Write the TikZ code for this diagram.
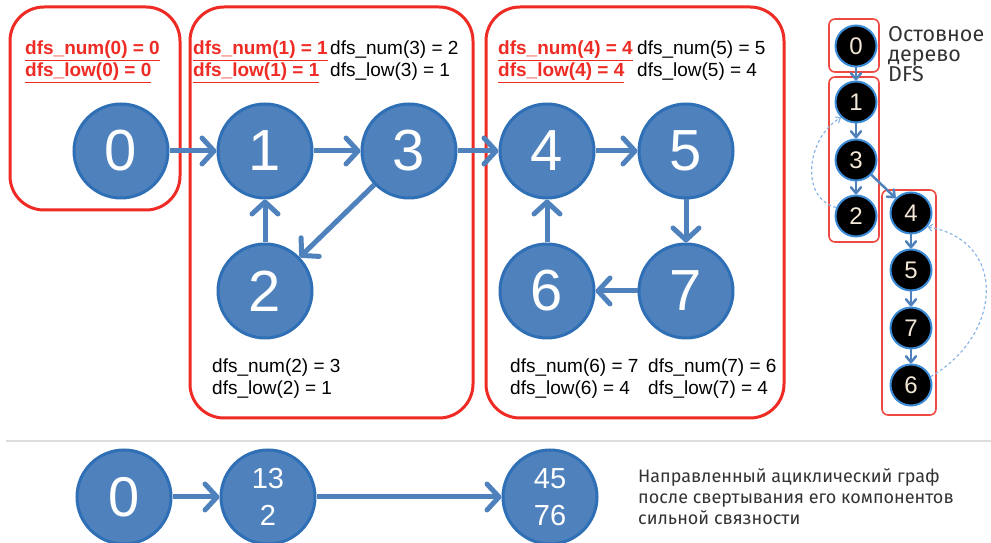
\documentclass[tikz,border=0pt]{standalone}
\usepackage{fontspec}
\setmainfont{Liberation Sans}
\newfontfamily\notefont{Fira Sans}
\usetikzlibrary{arrows.meta}

\definecolor{nodeblue}{HTML}{4F81BD}
\definecolor{rimblue}{HTML}{2F6FB5}
\definecolor{boxred}{HTML}{EE2B24}
\definecolor{treered}{HTML}{EE4A42}
\definecolor{dashblue}{HTML}{8DB6E6}
\definecolor{treerim}{HTML}{3B8AD6}
\definecolor{digit}{HTML}{F3E7D6}
\definecolor{rulegray}{HTML}{DDDDDD}
\definecolor{notegray}{HTML}{333333}

\tikzset{
  vertex/.style={circle, fill=nodeblue, draw=rimblue, line width=3pt, minimum size=94pt,
    inner sep=0pt, text=white, font=\fontsize{58}{58}\selectfont},
  sccvertex/.style={vertex, align=center, font=\fontsize{29}{37}\selectfont},
  tvertex/.style={circle, fill=black, draw=treerim, line width=2pt, minimum size=41pt,
    inner sep=0pt, text=digit, font=\fontsize{24}{24}\selectfont},
  arc/.style={draw=nodeblue, line width=5pt, -{Straight Barb[length=12pt,width=26pt,round]}},
  tarc/.style={draw=nodeblue, line width=2.5pt, -{Straight Barb[length=6pt,width=10pt,round]}},
  backarc/.style={draw=dashblue, line width=1.2pt, dash pattern=on 3pt off 2.5pt,
    -{Straight Barb[length=4pt,width=7pt]}},
  comp/.style={draw=boxred, line width=3pt, rounded corners=34pt},
  tcomp/.style={draw=treered, line width=1.6pt, rounded corners=6pt},
  lbl/.style={anchor=base west, inner sep=0pt, font=\fontsize{19}{19}\selectfont},
  rootlbl/.style={lbl, text=boxred, font=\fontsize{19}{19}\selectfont\bfseries},
  note/.style={anchor=base west, inner sep=0pt, text=notegray, font=\notefont\fontsize{18}{21}\selectfont},
  treenote/.style={note, font=\notefont\fontsize{21.5}{21}\selectfont},
}

\begin{document}
\begin{tikzpicture}[x=1pt,y=1pt]
  \useasboundingbox (0,0) rectangle (991,543);

  % components
  \draw[comp] (10,333) rectangle (180,536);
  \draw[comp] (190,125) rectangle (473,536);
  \draw[comp] (486,125) rectangle (784,536);

  % graph
  \node[vertex] (n0) at (121,392) {0};
  \node[vertex] (n1) at (265,392) {1};
  \node[vertex] (n3) at (409,392) {3};
  \node[vertex] (n2) at (265,252) {2};
  \node[vertex] (n4) at (547,392) {4};
  \node[vertex] (n5) at (686,392) {5};
  \node[vertex] (n6) at (547,252) {6};
  \node[vertex] (n7) at (686,252) {7};

  \draw[arc] (n0) -- (n1);
  \draw[arc] (n1) -- (n3);
  \draw[arc] (n3) -- (n4);
  \draw[arc] (n3) -- (n2);
  \draw[arc] (n2) -- (n1);
  \draw[arc] (n4) -- (n5);
  \draw[arc] (n5) -- (n7);
  \draw[arc] (n7) -- (n6);
  \draw[arc] (n6) -- (n4);

  % dfs numbers
  \node[rootlbl] (num0) at (25,488) {\underline{dfs\_num(0) = 0}};
  \node[rootlbl] (low0) at (25,466) {\underline{dfs\_low(0) = 0}};
  \node[rootlbl] (num1) at (193,488) {\underline{dfs\_num(1) = 1}};
  \node[rootlbl] (low1) at (193,466) {\underline{dfs\_low(1) = 1}};
  \node[lbl] (num3) at (330,488) {dfs\_num(3) = 2};
  \node[lbl] (low3) at (330,466) {dfs\_low(3) = 1};
  \node[rootlbl] (num4) at (498,488) {\underline{dfs\_num(4) = 4}};
  \node[rootlbl] (low4) at (498,466) {\underline{dfs\_low(4) = 4}};
  \node[lbl] (num5) at (637,488) {dfs\_num(5) = 5};
  \node[lbl] (low5) at (637,466) {dfs\_low(5) = 4};
  \node[lbl] (num2) at (212,170) {dfs\_num(2) = 3};
  \node[lbl] (low2) at (212,148) {dfs\_low(2) = 1};
  \node[lbl] (num6) at (510,170) {dfs\_num(6) = 7};
  \node[lbl] (low6) at (510,148) {dfs\_low(6) = 4};
  \node[lbl] (num7) at (648,170) {dfs\_num(7) = 6};
  \node[lbl] (low7) at (648,148) {dfs\_low(7) = 4};

  % DFS spanning tree
  \draw[tcomp] (829,471) rectangle (879,524);
  \draw[tcomp] (829,301) rectangle (879,466);
  \draw[tcomp] (882,128) rectangle (936,353);

  \node[tvertex] (t0) at (856,497) {0};
  \node[tvertex] (t1) at (856,441) {1};
  \node[tvertex] (t3) at (856,383) {3};
  \node[tvertex] (t2) at (856,327) {2};
  \node[tvertex] (t4) at (911,330) {4};
  \node[tvertex] (t5) at (911,273) {5};
  \node[tvertex] (t7) at (911,215) {7};
  \node[tvertex] (t6) at (911,158) {6};

  \draw[tarc] (t0) -- (t1);
  \draw[tarc] (t1) -- (t3);
  \draw[tarc] (t3) -- (t2);
  \draw[tarc] (t3) -- (t4);
  \draw[tarc] (t4) -- (t5);
  \draw[tarc] (t5) -- (t7);
  \draw[tarc] (t7) -- (t6);
  \draw[backarc] (t2.157) to[out=165,in=210,looseness=1.1] (t1.226);
  \draw[backarc] (t6.23) to[out=30,in=-10,looseness=1.4] (t4.-40);

  \node[treenote] (tree1) at (888,501) {Остовное};
  \node[treenote] (tree2) at (888,481) {дерево};
  \node[treenote] (tree3) at (888,461) {DFS};

  % condensation
  \draw[rulegray, line width=1.5pt] (6,102) -- (991,102);

  \node[vertex, font=\fontsize{56}{56}\selectfont] (c0) at (124,46) {0};
  \node[sccvertex] (c13) at (268,46) {13\\2};
  \node[sccvertex] (c45) at (550,46) {45\\76};

  \draw[arc] (c0) -- (c13);
  \draw[arc] (c13) -- (c45);

  \node[note] (dag1) at (638,60) {Направленный ациклический граф};
  \node[note] (dag2) at (638,39) {после свертывания его компонентов};
  \node[note] (dag3) at (638,18) {сильной связности};
\end{tikzpicture}
\end{document}
